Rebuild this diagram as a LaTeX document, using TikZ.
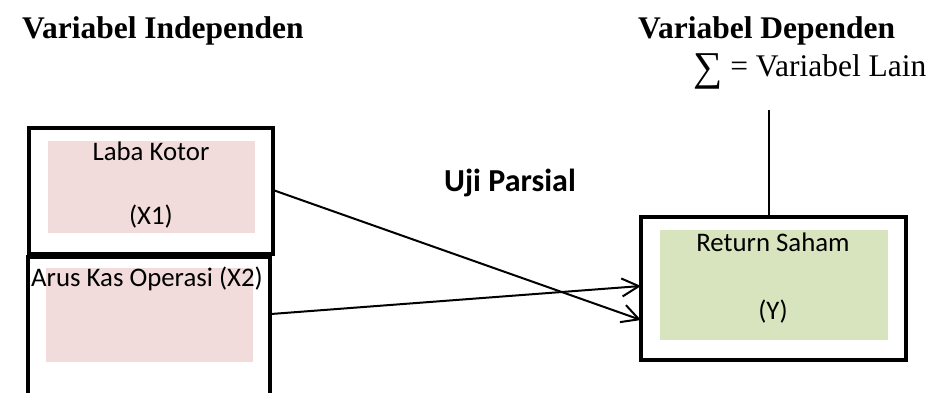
\documentclass[tikz,border=0pt]{standalone}
\usepackage{fontspec}
\setmainfont{Liberation Serif}
\newfontfamily\boxfont{Carlito}
\usetikzlibrary{arrows.meta,calc}
\definecolor{pinkfill}{HTML}{F2DCDB}
\definecolor{greenfill}{HTML}{D7E4BD}
\tikzset{
  outerbox/.style={draw=black, line width=4pt, minimum width=#1, inner sep=0pt},
  fillbox/.style={fill=#1, draw=none, inner sep=0pt},
  boxtext/.style={font=\boxfont\fontsize{26.8}{30}\selectfont, inner sep=0pt},
  heading/.style={font=\bfseries\fontsize{31.5}{36}\selectfont, inner sep=0pt},
  link/.style={line width=2pt, -{Straight Barb[length=17pt,width=18pt,line width=2pt]}},
}
\begin{document}
\begin{tikzpicture}[x=1pt,y=-1pt]
\useasboundingbox (0,0) rectangle (929,392);
\clip (0,0) rectangle (929,392);

% headings
\node[heading, anchor=west] (indep) at (22,31) {Variabel Independen};
\node[heading, anchor=west] (dep) at (638,31) {Variabel Dependen};
\node[font=\fontsize{31.5}{36}\selectfont, inner sep=0pt, anchor=west] (lain) at (693,71)
  {\raisebox{-0.12em}{\scalebox{1.3}{∑}} = Variabel Lain};

% shaded panels
\node[fillbox=pinkfill, minimum width=207pt, minimum height=92pt] (p1) at (151.5,187) {};
\node[fillbox=pinkfill, minimum width=207pt, minimum height=94pt] (p2) at (149.5,315) {};
\node[fillbox=greenfill, minimum width=228pt, minimum height=110pt] (py) at (774,285) {};

% framed boxes
\node[outerbox=244pt, minimum height=126pt] (x1) at (151,191) {};
\node[outerbox=242pt, minimum height=170pt] (x2) at (149,342) {};
\node[outerbox=265pt, minimum height=143pt] (y) at (773.5,288.5) {};

% box labels
\node[boxtext] (t1a) at (151,151) {Laba Kotor};
\node[boxtext] (t1b) at (151,217) {(X1)};
\node[boxtext] (t2) at (147,279) {Arus Kas Operasi (X2)};
\node[boxtext] (ty1) at (773,242) {Return Saham};
\node[boxtext] (ty2) at (773,312) {(Y)};

% test label
\node[font=\boxfont\bfseries\fontsize{32}{36}\selectfont, inner sep=0pt] (uji) at (510,183) {Uji Parsial};

% connectors
\coordinate (s1) at (273,190);
\coordinate (s2) at (271,314);
\coordinate (e1) at (641,320);
\coordinate (e2) at (641,286);
\draw[link] (s1) -- (e1);
\draw[link] (s2) -- (e2);

\coordinate (vtop) at (769,110);
\draw[line width=2pt] (vtop) -- (vtop |- y.north);
\end{tikzpicture}
\end{document}
